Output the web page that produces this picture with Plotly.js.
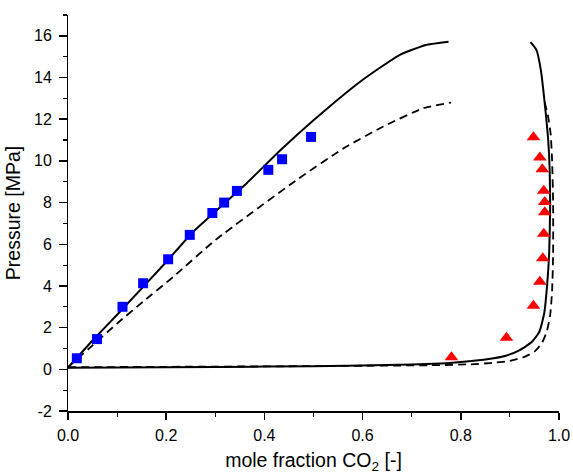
<!DOCTYPE html>
<html><head><meta charset="utf-8">
<script src="https://cdn.plot.ly/plotly-3.0.1.min.js"></script>
<style>body{margin:0;background:#fff}#chart{width:573px;height:474px}</style>
</head><body><div id="chart"></div>
<script>
// Experimental data: liquid phase (blue squares)
const liqX = [0.018, 0.059, 0.111, 0.153, 0.204, 0.248, 0.294, 0.318, 0.344, 0.408, 0.436, 0.495];
const liqP = [0.53, 1.45, 3.0, 4.13, 5.28, 6.45, 7.5, 8.0, 8.56, 9.57, 10.08, 11.15];
// Experimental data: vapour phase (red triangles)
const vapX = [0.781, 0.893, 0.948, 0.961, 0.967, 0.969, 0.971, 0.971, 0.969, 0.966, 0.961, 0.948];
const vapP = [0.58, 1.52, 3.05, 4.2, 5.33, 6.5, 7.54, 8.03, 8.57, 9.6, 10.16, 11.14];
// Model 1 (solid): bubble branch
const m1BubX = [0.0, 0.05, 0.1, 0.2, 0.255, 0.364, 0.432, 0.5, 0.595, 0.676, 0.731, 0.775];
const m1BubP = [0.08, 1.38, 2.62, 5.15, 6.6, 8.93, 10.5, 11.95, 13.8, 15.09, 15.57, 15.72];
// Model 1 (solid): dew branch
const m1DewX = [0.0, 0.2, 0.4, 0.6, 0.7, 0.76, 0.8, 0.85, 0.89, 0.92, 0.945, 0.96, 0.97, 0.976, 0.98, 0.982, 0.981, 0.978, 0.973, 0.968, 0.963, 0.954, 0.942];
const m1DewP = [0.08, 0.1, 0.13, 0.18, 0.23, 0.28, 0.35, 0.47, 0.64, 0.92, 1.32, 1.8, 2.7, 4.1, 5.6, 7.8, 9.6, 11.0, 12.29, 13.41, 14.37, 15.33, 15.7];
// Model 2 (dashed): bubble branch
const m2BubX = [0.0, 0.05, 0.1, 0.153, 0.215, 0.3, 0.466, 0.561, 0.642, 0.724, 0.78];
const m2BubP = [0.1, 1.15, 2.2, 3.25, 4.45, 6.2, 9.09, 10.6, 11.65, 12.53, 12.8];
// Model 2 (dashed): dew branch
const m2DewX = [0.0, 0.2, 0.4, 0.6, 0.75, 0.82, 0.86, 0.9, 0.93, 0.95, 0.965, 0.975, 0.982, 0.986, 0.988, 0.988, 0.986, 0.983, 0.978, 0.971];
const m2DewP = [0.1, 0.12, 0.14, 0.17, 0.2, 0.24, 0.3, 0.4, 0.6, 0.85, 1.25, 1.8, 2.6, 3.8, 5.5, 8.0, 10.0, 11.3, 12.1, 12.8];
// Tick labels
const xTicks = [0, 0.2, 0.4, 0.6, 0.8, 1.0];
const xTickText = ['0.0', '0.2', '0.4', '0.6', '0.8', '1.0'];
const yTicks = [-2, 0, 2, 4, 6, 8, 10, 12, 14, 16];
const yTickText = ['-2', '0', '2', '4', '6', '8', '10', '12', '14', '16'];

const dashed = {color: '#000', width: 1.8, dash: '8px,5px', shape: 'spline', smoothing: 0.5};
const solid = {color: '#000', width: 2, shape: 'spline', smoothing: 0.5};
const traces = [
  {x: m2BubX, y: m2BubP, mode: 'lines', line: dashed},
  {x: m2DewX, y: m2DewP, mode: 'lines', line: dashed},
  {x: m1BubX, y: m1BubP, mode: 'lines', line: solid},
  {x: m1DewX, y: m1DewP, mode: 'lines', line: solid},
  {x: liqX, y: liqP, mode: 'markers', marker: {symbol: 'square', size: 10, color: '#0000FF'}},
  {x: vapX, y: vapP, mode: 'markers', marker: {symbol: 'triangle-up', size: 12, color: '#FF0000'}}
];

const layout = {
  width: 573, height: 474,
  margin: {l: 68, r: 14, t: 15, b: 63},
  showlegend: false,
  paper_bgcolor: '#fff', plot_bgcolor: '#fff',
  font: {family: 'Liberation Sans, Arial, sans-serif', color: '#000', size: 16},
  xaxis: {
    range: [0, 1], tickmode: 'array', tickvals: xTicks, ticktext: xTickText,
    showgrid: false, zeroline: false, showline: true, linecolor: '#000', linewidth: 1.5,
    ticks: 'outside', ticklen: 7, tickwidth: 1.5, tickcolor: '#000',
    minor: {tickvals: [0.1, 0.3, 0.5, 0.7, 0.9], ticklen: 4, tickwidth: 1.2, tickcolor: '#000', showgrid: false},
    tickfont: {size: 16}, ticklabelstandoff: 2,
    title: {text: 'mole fraction CO<sub>2</sub> [-]', font: {size: 19.5}, standoff: 10}
  },
  yaxis: {
    range: [-2, 17], tickmode: 'array', tickvals: yTicks, ticktext: yTickText,
    showgrid: false, zeroline: false, showline: true, linecolor: '#000', linewidth: 1.5,
    ticks: 'outside', ticklen: 7.5, tickwidth: 1.5, tickcolor: '#000',
    minor: {tickvals: [-1, 1, 3, 5, 7, 9, 11, 13, 15, 17], ticklen: 4, tickwidth: 1.2, tickcolor: '#000', showgrid: false},
    tickfont: {size: 16}, ticklabelstandoff: 4,
    title: {text: 'Pressure [MPa]', font: {size: 19.5}, standoff: 8}
  }
};
Plotly.newPlot('chart', traces, layout, {displayModeBar: false, staticPlot: true});
</script></body></html>
